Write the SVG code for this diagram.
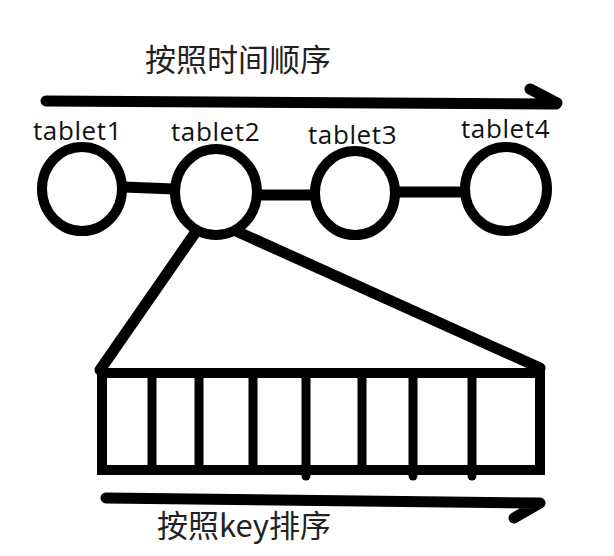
<svg xmlns="http://www.w3.org/2000/svg" width="614" height="556" viewBox="0 0 614 556">
<style>
.ln{stroke:#000;stroke-width:11;fill:none;stroke-linecap:round;stroke-linejoin:round}
.nd{stroke:#000;stroke-width:10;fill:#fff}
.lbl{font-family:"Open Sans","Noto Sans",sans-serif;font-size:26px;letter-spacing:0.6px;fill:#111}
.cjk{font-family:"Noto Sans CJK SC",sans-serif;font-size:31px;fill:#222}
.dv{stroke:#000;stroke-width:9;stroke-linecap:round}
</style>
<rect width="614" height="556" fill="#fff"/>
<text class="cjk" x="145" y="71">按照时间顺序</text>
<g id="arrow-time">
<path class="ln" d="M46 101 L556 104 M530 89 L557 103"/>
</g>
<g id="connectors">
<path class="ln" d="M124 187 L174 189 M258 195 L312 195 M398 192 L464 192"/>
<path class="ln" d="M195 233 L100 370 M236 231 L540 368"/>
</g>
<g id="tablet1"><ellipse class="nd" cx="82" cy="189" rx="40" ry="42"/><text class="lbl" x="33" y="140">tablet1</text></g>
<g id="tablet2"><ellipse class="nd" cx="216" cy="192" rx="41" ry="43"/><text class="lbl" x="171" y="141">tablet2</text></g>
<g id="tablet3"><ellipse class="nd" cx="355" cy="193" rx="40" ry="42"/><text class="lbl" x="308" y="144">tablet3</text></g>
<g id="tablet4"><ellipse class="nd" cx="506" cy="189" rx="41" ry="42"/><text class="lbl" x="461" y="138">tablet4</text></g>
<g id="keys">
<rect x="102" y="373" width="438" height="97" fill="none" stroke="#000" stroke-width="10"/>
<line class="dv" x1="152" y1="373" x2="152" y2="470"/>
<line class="dv" x1="199" y1="373" x2="199" y2="470"/>
<line class="dv" x1="253" y1="373" x2="253" y2="470"/>
<line class="dv" x1="306" y1="373" x2="306" y2="476"/>
<line class="dv" x1="362" y1="373" x2="362" y2="470"/>
<line class="dv" x1="413" y1="373" x2="413" y2="476"/>
<line class="dv" x1="472" y1="373" x2="472" y2="476"/>
</g>
<g id="arrow-key">
<path class="ln" d="M106 498 L540 503 M514 518 L540 503"/>
</g>
<text class="cjk" x="157" y="537">按照key排序</text>
</svg>
